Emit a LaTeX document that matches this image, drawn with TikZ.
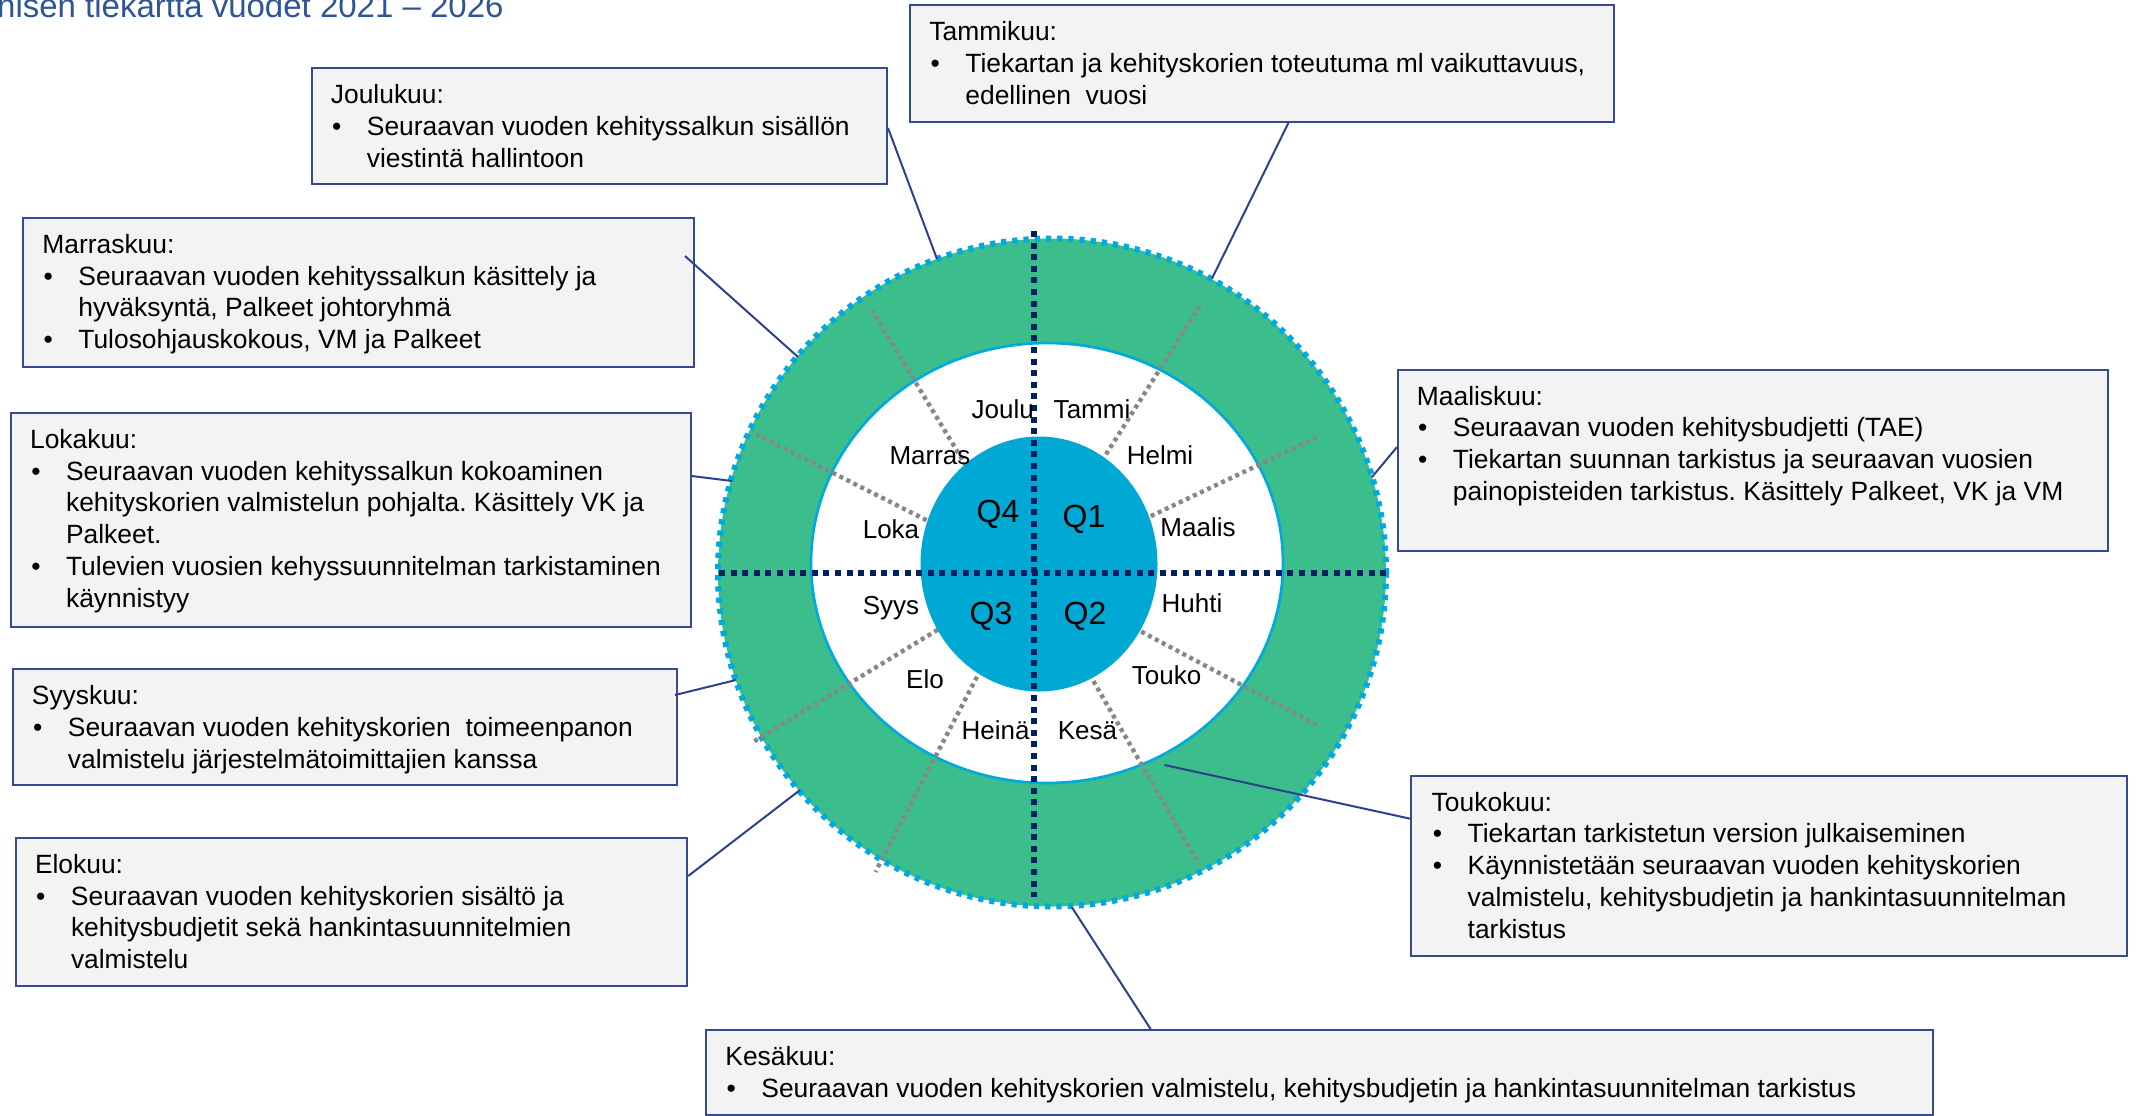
\documentclass[tikz,border=0pt]{standalone}
\usepackage{fontspec}
\setmainfont{Liberation Sans}
\usetikzlibrary{calc}
\frenchspacing
\definecolor{ringgreen}{RGB}{60,190,140}
\definecolor{ringcyan}{RGB}{0,170,222}
\definecolor{qblue}{RGB}{0,168,212}
\definecolor{navyline}{RGB}{0,32,96}
\definecolor{divgray}{RGB}{135,135,135}
\definecolor{boxline}{RGB}{50,75,145}
\definecolor{boxfill}{RGB}{243,243,243}
\definecolor{connline}{RGB}{45,65,140}
\definecolor{titleblue}{RGB}{47,85,151}
\newcommand{\bul}{\makebox[18pt][l]{\hspace{0.6pt}•}}
\newcommand{\ind}{\hspace*{18pt}}
\newcommand{\boxtxt}[1]{\parbox[t]{640pt}{\frenchspacing\fontsize{13.2}{15.9}\selectfont #1}}
\begin{document}
\begin{tikzpicture}[x=0.5pt,y=-0.5pt,
  infobox/.style={draw=boxline, line width=1pt, fill=boxfill, rectangle, inner sep=0pt, anchor=north west},
  boxtext/.style={anchor=base west, inner sep=0pt},
  month/.style={anchor=base, inner sep=0pt, font=\fontsize{13}{15}\selectfont},
  quarter/.style={anchor=base, inner sep=0pt, font=\fontsize{16}{19}\selectfont},
  navydash/.style={draw=navyline, line width=2.8pt, dash pattern=on 3pt off 2.8pt},
  divider/.style={draw=divgray, line width=2.2pt, dash pattern=on 2pt off 1.9pt},
  conn/.style={draw=connline, line width=1pt}]
\useasboundingbox (0,0) rectangle (2136,1115);
\fill[white] (0,0) rectangle (2136,1115);

% title
\node[anchor=base east, inner sep=0pt, font=\fontsize{16.5}{20}\selectfont, text=titleblue] (title) at (504,17) {nisen tiekartta vuodet 2021 – 2026};

% ring
\fill[ringgreen] (1052,572.5) circle[radius=334];
\draw[ringcyan, line width=3pt, dash pattern=on 2.6pt off 3pt] (1052,572.5) circle[radius=334];
\filldraw[fill=white, draw=ringcyan, line width=1.35pt] (1047,563) ellipse[x radius=236, y radius=220];

% month dividers
\coordinate (o) at (1031,573);
\foreach \a/\r in {28/326, 60/336, 117.5/337, 148.7/327, 206.8/313, 238.8/307, 302.3/316, 334.6/318}{
  \draw[divider] (o) -- ++(\a:\r);
}

% inner quarter disc
\fill[qblue] (1039,564) ellipse[x radius=118.5, y radius=127.5];

% quarter axes
\draw[navydash] (1034,231) -- (1034,897);
\draw[navydash] (719,573) -- (1386,573);

% month labels
\node[month] (lJoulu) at (1002.7,418.3) {Joulu};
\node[month] (lTammi) at (1092,418.3) {Tammi};
\node[month] (lMarras) at (930,464.5) {Marras};
\node[month] (lHelmi) at (1160,464.5) {Helmi};
\node[month] (lLoka) at (891,538.5) {Loka};
\node[month] (lMaalis) at (1198,536.5) {Maalis};
\node[month] (lSyys) at (891,614.5) {Syys};
\node[month] (lHuhti) at (1192,612.5) {Huhti};
\node[month] (lElo) at (925,688.5) {Elo};
\node[month] (lTouko) at (1166.5,684) {Touko};
\node[month] (lHeina) at (995.5,739.5) {Heinä};
\node[month] (lKesa) at (1087.5,739.5) {Kesä};
\node[quarter] (q4) at (998,522.5) {Q4};
\node[quarter] (q1) at (1084,527) {Q1};
\node[quarter] (q3) at (991,624.5) {Q3};
\node[quarter] (q2) at (1085,624.5) {Q2};

% boxes
\node[infobox, minimum width=352pt, minimum height=58.25pt] (tam) at (909,4) {};
\node[boxtext] (tamT) at ($(tam.north west)+(20,36.5)$) {\boxtxt{Tammikuu:\\
\bul Tiekartan ja kehityskorien toteutuma ml vaikuttavuus,\\
\ind edellinen~ vuosi}};

\node[infobox, minimum width=287.75pt, minimum height=58pt] (jou) at (310.5,67) {};
\node[boxtext] (jouT) at ($(jou.north west)+(20,36.5)$) {\boxtxt{Joulukuu:\\
\bul Seuraavan vuoden kehityssalkun sisällön\\
\ind viestintä hallintoon}};

\node[infobox, minimum width=335.25pt, minimum height=74.4pt] (mar) at (22,216.7) {};
\node[boxtext] (marT) at ($(mar.north west)+(20,36.5)$) {\boxtxt{Marraskuu:\\
\bul Seuraavan vuoden kehityssalkun käsittely ja\\
\ind hyväksyntä, Palkeet johtoryhmä\\
\bul Tulosohjauskokous, VM ja Palkeet}};

\node[infobox, minimum width=340pt, minimum height=107pt] (lok) at (9.7,411.7) {};
\node[boxtext] (lokT) at ($(lok.north west)+(20,36.5)$) {\boxtxt{Lokakuu:\\
\bul Seuraavan vuoden kehityssalkun kokoaminen\\
\ind kehityskorien valmistelun pohjalta. Käsittely VK ja\\
\ind Palkeet.\\
\bul Tulevien vuosien kehyssuunnitelman tarkistaminen\\
\ind käynnistyy}};

\node[infobox, minimum width=332.25pt, minimum height=58pt] (syy) at (11.5,668.3) {};
\node[boxtext] (syyT) at ($(syy.north west)+(20,36.5)$) {\boxtxt{Syyskuu:\\
\bul Seuraavan vuoden kehityskorien~ toimeenpanon\\
\ind valmistelu järjestelmätoimittajien kanssa}};

\node[infobox, minimum width=335.8pt, minimum height=74.15pt] (elo) at (14.6,836.7) {};
\node[boxtext] (eloT) at ($(elo.north west)+(20,36.5)$) {\boxtxt{Elokuu:\\
\bul Seuraavan vuoden kehityskorien sisältö ja\\
\ind kehitysbudjetit sekä hankintasuunnitelmien\\
\ind valmistelu}};

\node[infobox, minimum width=613.5pt, minimum height=42.5pt] (kes) at (705,1029) {};
\node[boxtext] (kesT) at ($(kes.north west)+(20,36.5)$) {\boxtxt{Kesäkuu:\\
\bul Seuraavan vuoden kehityskorien valmistelu, kehitysbudjetin ja hankintasuunnitelman tarkistus}};

\node[infobox, minimum width=358pt, minimum height=90pt] (tou) at (1410.3,774.5) {};
\node[boxtext] (touT) at ($(tou.north west)+(21,36.5)$) {\boxtxt{Toukokuu:\\
\bul Tiekartan tarkistetun version julkaiseminen\\
\bul Käynnistetään seuraavan vuoden kehityskorien\\
\ind valmistelu, kehitysbudjetin ja hankintasuunnitelman\\
\ind tarkistus}};

\node[infobox, minimum width=355pt, minimum height=90.5pt] (maa) at (1397,368.5) {};
\node[boxtext] (maaT) at ($(maa.north west)+(19.5,36.5)$) {\boxtxt{Maaliskuu:\\
\bul Seuraavan vuoden kehitysbudjetti (TAE)\\
\bul Tiekartan suunnan tarkistus ja seuraavan vuosien\\
\ind painopisteiden tarkistus. Käsittely Palkeet, VK ja VM}};

% connector ends
\coordinate (cJou) at (937,259);
\coordinate (cTam) at (1212,278.5);
\coordinate (cMar) at (798,357);
\coordinate (cLok) at (732,481);
\coordinate (cSyy) at (736,680);
\coordinate (cElo) at (800,790);
\coordinate (cKes) at (1071.7,907);
\coordinate (cTou) at (1164.5,765);
\coordinate (cMaa) at (1372,477);

% connectors
\draw[conn] ($(jou.north east)+(0,61)$) -- (cJou);
\draw[conn] ($(tam.south west)+(379.6,0)$) -- (cTam);
\draw[conn] ($(mar.north east)+(-9.5,39.3)$) -- (cMar);
\draw[conn] ($(lok.north east)+(0,64.3)$) -- (cLok);
\draw[conn] ($(syy.north east)+(-3,26.7)$) -- (cSyy);
\draw[conn] ($(elo.north east)+(0,39.3)$) -- (cElo);
\draw[conn] ($(kes.north west)+(445.6,0)$) -- (cKes);
\draw[conn] ($(tou.north west)+(0,44.2)$) -- (cTou);
\draw[conn] ($(maa.north west)+(0,78.5)$) -- (cMaa);
\end{tikzpicture}
\end{document}
